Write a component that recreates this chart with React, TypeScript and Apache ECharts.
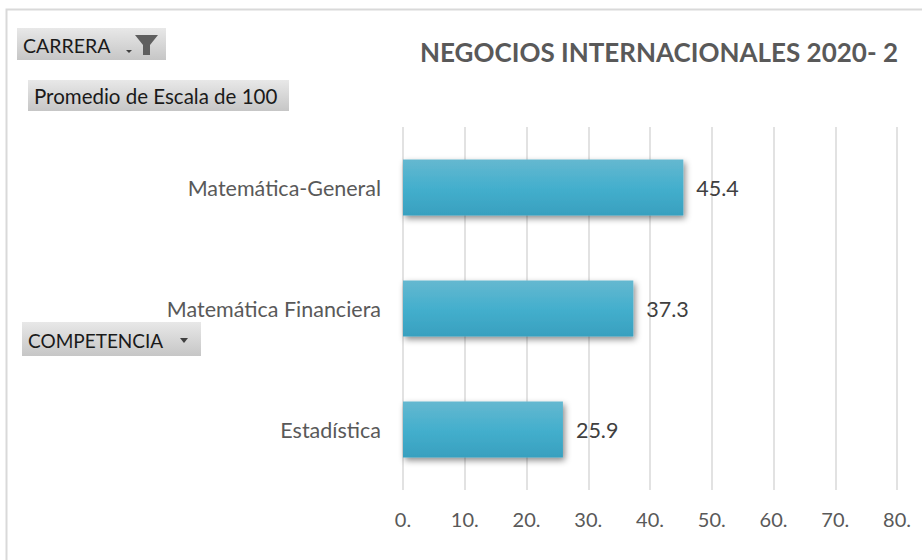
import React, { useEffect, useRef } from "react";
import * as echarts from "echarts";

const categories = ["Matemática-General", "Matemática Financiera", "Estadística"];
const values = [45.4, 37.3, 25.9];
const titleText = "NEGOCIOS INTERNACIONALES 2020- 2";
const FONT = "Lato, 'Open Sans', sans-serif";

export default function App() {
  const ref = useRef<HTMLDivElement>(null);
  useEffect(() => {
    if (!ref.current) return;
    const chart = echarts.init(ref.current, null, { renderer: "svg" });
    const btnFill = () =>
      new echarts.graphic.LinearGradient(0, 0, 0, 1, [
        { offset: 0, color: "#e8e8e8" },
        { offset: 1, color: "#c6c6c6" },
      ]);
    chart.setOption({
      animation: false,
      backgroundColor: "#ffffff",
      textStyle: { fontFamily: FONT },
      title: {
        text: titleText,
        right: 19,
        top: 34,
        textStyle: { fontFamily: FONT, fontSize: 26, fontWeight: "bold", color: "#595959" },
      },
      grid: { left: 403, right: 25, top: 127, bottom: 70 },
      xAxis: {
        type: "value",
        min: 0,
        max: 80,
        interval: 10,
        axisLine: { show: false },
        axisTick: { show: false },
        splitLine: { show: true, lineStyle: { color: "#d9d9d9", width: 1.5 } },
        axisLabel: {
          formatter: (v: number) => `${v}.`,
          color: "#595959",
          fontSize: 20,
          fontFamily: FONT,
          margin: 19,
        },
      },
      yAxis: {
        type: "category",
        data: categories,
        inverse: true,
        axisLine: { show: false },
        axisTick: { show: false },
        axisLabel: { color: "#595959", fontSize: 21.5, fontFamily: FONT, margin: 22 },
      },
      series: [
        {
          type: "bar",
          data: values,
          barWidth: 56,
          itemStyle: {
            color: new echarts.graphic.LinearGradient(0, 0, 0, 1, [
              { offset: 0, color: "#65b8d0" },
              { offset: 0.5, color: "#44afcd" },
              { offset: 1, color: "#38a0bf" },
            ]),
            shadowColor: "rgba(0,0,0,0.45)",
            shadowBlur: 6,
            shadowOffsetX: 2,
            shadowOffsetY: 3,
          },
          label: {
            show: true,
            position: "right",
            distance: 13,
            color: "#404040",
            fontSize: 21.5,
            fontFamily: FONT,
            formatter: (p: any) => p.value.toFixed(1),
          },
        },
      ],
      graphic: [
        {
          type: "rect",
          shape: { x: 6.5, y: 9.5, width: 930, height: 560 },
          style: { fill: "none", stroke: "#d9d9d9", lineWidth: 2 },
          silent: true,
        },
        {
          type: "rect",
          shape: { x: 17, y: 28, width: 149, height: 32 },
          style: { fill: btnFill() },
        },
        {
          type: "text",
          x: 23,
          y: 45,
          style: { text: "CARRERA", fontFamily: FONT, fontSize: 19.5, fill: "#1a1a1a", verticalAlign: "middle" },
        },
        {
          type: "polygon",
          shape: { points: [[126, 50], [132, 50], [129, 53]] },
          style: { fill: "#404040" },
        },
        {
          type: "polygon",
          shape: {
            points: [[135, 35], [158, 35], [150, 45], [150, 55], [143, 55], [143, 45]],
          },
          style: { fill: "#5f5f5f" },
        },
        {
          type: "rect",
          shape: { x: 28, y: 80, width: 261, height: 31 },
          style: { fill: btnFill() },
        },
        {
          type: "text",
          x: 34,
          y: 96,
          style: {
            text: "Promedio de Escala de 100",
            fontFamily: FONT,
            fontSize: 20.5,
            fill: "#1a1a1a",
            verticalAlign: "middle",
          },
        },
        {
          type: "rect",
          shape: { x: 22, y: 322, width: 179, height: 34 },
          style: { fill: btnFill() },
        },
        {
          type: "text",
          x: 28,
          y: 340,
          style: { text: "COMPETENCIA", fontFamily: FONT, fontSize: 19, fill: "#1a1a1a", verticalAlign: "middle" },
        },
        {
          type: "polygon",
          shape: { points: [[180, 338], [188, 338], [184, 343]] },
          style: { fill: "#404040" },
        },
      ],
    });
    return () => chart.dispose();
  }, []);
  return (
    <div
      ref={ref}
      style={{ position: "fixed", left: 0, top: 0, width: 922, height: 560 }}
    />
  );
}
